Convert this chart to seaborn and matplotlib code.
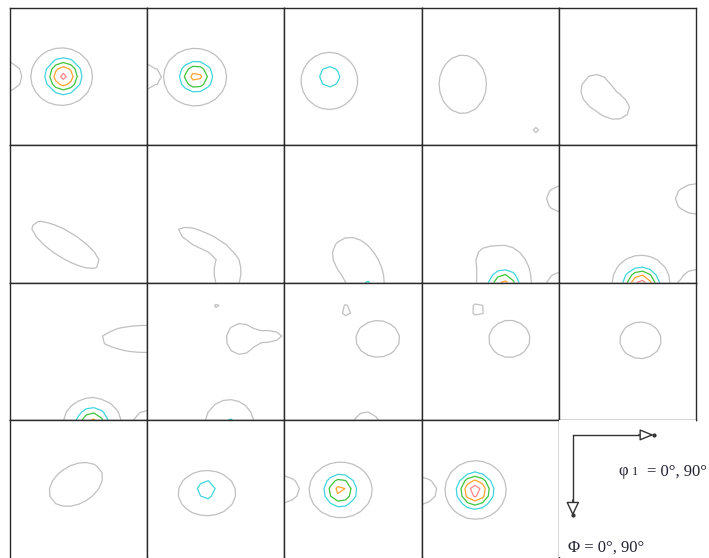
import numpy as np
import matplotlib
matplotlib.use("Agg")
import matplotlib.pyplot as plt
import seaborn as sns

sns.set_theme(style="white")
plt.rcParams["font.family"] = ["Liberation Serif", "DejaVu Serif"]

# Intensity levels of the ODF sections and their line colours
LEVELS = [1, 2, 3, 4, 5]
LEVEL_COLORS = sns.color_palette(["#c0c0c0", "#3fd5dd", "#3cc43c", "#ffa42e", "#ff8585"])

# Texture components of each constant-phi2 section:
# section index, component group, centre (phi1, Phi) in degrees,
# spreads along the two principal directions (deg), tilt (deg), peak intensity.
PEAK_SECTION = [0, 0, 0,
                1, 1, 1,
                2, 2,
                3, 3,
                4, 4,
                5,
                6, 6,
                7, 7, 7,
                8, 8, 8, 8, 8,
                9, 9, 9, 9,
                10, 10, 10, 10,
                11, 11, 11, 11, 11,
                12, 12, 12,
                13, 13,
                14,
                15,
                16, 16,
                17, 17, 17,
                18, 18, 18]
PEAK_GROUP = [0, 1, 2,
              0, 1, 2,
              0, 1,
              0, 1,
              0, 0,
              0,
              0, 1,
              0, 0, 1,
              0, 0, 1, 2, 3,
              0, 1, 2, 3,
              0, 1, 2, 3,
              0, 1, 1, 2, 3,
              0, 1, 2,
              0, 1,
              0,
              0,
              0, 1,
              0, 1, 2,
              0, 1, 2]
PEAK_PHI1 = [33.9, 35.1, -2.7,
             31.4, 32.0, -3.6,
             29.5, 29.7,
             27.0, 75.0,
             24.3, 39.6,
             36.5,
             52.7, 37.8,
             54.0, 40.5, 54.0,
             54.0, 39.6, 54.0, 92.7, 91.8,
             54.0, 54.0, 90.0, 90.0,
             90.0, 54.0, 54.0, 90.0,
             46.8, 61.2, 82.8, 54.0, 54.0,
             41.0, 61.2, 53.6,
             36.9, 57.6,
             53.6,
             43.2,
             39.2, 38.9,
             36.9, 36.6, -2.7,
             35.4, 35.1, -1.8]
PEAK_PHI = [45.0, 44.7, 45.0,
            45.3, 45.0, 45.0,
            47.8, 45.0,
            50.0, 80.0,
            54.0, 66.6,
            65.3,
            82.8, 63.0,
            90.0, 70.2, 95.4,
            90.0, 72.0, 91.8, 35.1, 93.6,
            90.0, 91.8, 35.1, 92.7,
            36.9, 91.8, 92.7, 93.6,
            16.2, 36.9, 35.1, 92.7, 96.3,
            18.0, 36.9, 93.6,
            17.6, 36.9,
            37.8,
            42.3,
            48.0, 45.6,
            45.9, 46.2, 45.5,
            45.9, 46.4, 46.4]
PEAK_SPREAD1 = [22.5, 8.4, 11.0,
                23.0, 8.5, 12.0,
                20.7, 8.3,
                17.3, 1.6,
                12.6, 8.1,
                28.8,
                10.8, 23.4,
                12.6, 9.9, 8.3,
                20.0, 5.4, 8.0, 12.0, 11.7,
                21.0, 8.3, 15.0, 12.6,
                33.3, 21.0, 8.5, 10.8,
                3.0, 10.4, 7.2, 17.8, 8.3,
                4.3, 16.0, 9.8,
                4.6, 15.0,
                15.1,
                21.0,
                21.0, 6.5,
                23.0, 8.5, 14.0,
                22.3, 8.3, 13.1]
PEAK_SPREAD2 = [21.0, 8.4, 11.3,
                21.0, 8.0, 10.0,
                20.8, 8.3,
                21.3, 1.6,
                13.5, 6.8,
                9.5,
                18.0, 6.8,
                18.0, 9.9, 8.3,
                27.0, 5.4, 8.0, 9.9, 11.7,
                20.0, 8.3, 11.0, 12.6,
                9.9, 18.0, 8.5, 10.8,
                3.0, 11.3, 4.1, 17.8, 8.3,
                4.0, 13.4, 9.8,
                4.5, 13.6,
                13.4,
                14.0,
                16.5, 6.5,
                20.3, 8.5, 10.1,
                21.3, 8.3, 10.1]
PEAK_TILT = [0, 0, 0,
             0, 0, 0,
             0, 0,
             0, 0,
             0, 0,
             32,
             0, 25,
             0, 0, 0,
             0, 0, 0, 0, 0,
             0, 0, 0, 0,
             0, 0, 0, 0,
             0, 0, 0, 0, 0,
             0, 0, 0,
             0, 0,
             0,
             -30,
             0, 0,
             0, 0, 0,
             0, 0, 0]
PEAK_HEIGHT = [1.5, 5.33, 1.5,
               1.5, 4.45, 1.5,
               1.5, 2.77,
               1.5, 1.5,
               1.35, 1.15,
               1.5,
               1.4, 1.4,
               1.5, 1.25, 2.6,
               1.5, 0.25, 4.43, 1.5, 1.5,
               1.5, 5.6, 1.5, 1.5,
               1.5, 1.5, 4.38, 1.5,
               1.5, 1.5, 1.3, 1.5, 2.79,
               1.5, 1.5, 1.5,
               1.5, 1.5,
               1.5,
               1.5,
               1.5, 2.98,
               1.5, 4.36, 1.5,
               1.5, 5.66, 1.5]

N_SECTIONS = 19
STEP = 5.0  # grid step of the ODF sections (deg)

PHI1_SYMBOL = "φ"
PHI1_INDEX = "1"
PHI1_RANGE = "= 0°, 90°"
PHI_LABEL = "Φ = 0°, 90°"

phi1 = np.arange(0, 90 + STEP / 2, STEP)
Phi = np.arange(0, 90 + STEP / 2, STEP)
G1, G2 = np.meshgrid(phi1, Phi)


def section_field(k):
    groups = {}
    for i, s in enumerate(PEAK_SECTION):
        if s != k:
            continue
        th = np.deg2rad(PEAK_TILT[i])
        dx = G1 - PEAK_PHI1[i]
        dy = G2 - PEAK_PHI[i]
        u = dx * np.cos(th) + dy * np.sin(th)
        v = -dx * np.sin(th) + dy * np.cos(th)
        val = PEAK_HEIGHT[i] * np.exp(-0.5 * ((u / PEAK_SPREAD1[i]) ** 2 +
                                              (v / PEAK_SPREAD2[i]) ** 2))
        groups[PEAK_GROUP[i]] = groups.get(PEAK_GROUP[i], 0) + val
    return np.max(np.stack(list(groups.values())), axis=0)


W, H = 709, 558
X0, Y0, CW, CH = 10, 8, 137.2, 137.3
SPINE_COLOR = "#2a2a2a"
TEXT_COLOR = "#222233"

fig = plt.figure(figsize=(W / 100, H / 100), dpi=100)
fig.patch.set_facecolor("white")

for k in range(20):
    r, c = divmod(k, 5)
    ax = fig.add_axes([(X0 + c * CW) / W, 1 - (Y0 + (r + 1) * CH) / H, CW / W, CH / H])
    ax.set_facecolor("white")
    ax.set_xticks([])
    ax.set_yticks([])
    for sp in ax.spines.values():
        sp.set_color(SPINE_COLOR)
        sp.set_linewidth(1.0)
    if r == 3:
        ax.spines["bottom"].set_visible(False)

    if k < N_SECTIONS:
        Z = section_field(k)
        ax.contour(G1, G2, Z, levels=LEVELS, colors=LEVEL_COLORS, linewidths=0.9)
        ax.set_xlim(0, 90)
        ax.set_ylim(90, 0)
    else:
        # axis key: phi1 runs to the right, Phi runs downwards
        for sp in ax.spines.values():
            sp.set_visible(False)
        ax.set_xlim(0, CW)
        ax.set_ylim(CH, 0)
        ax.plot([14, 14], [15, 86], color="#333333", lw=1.0)
        ax.plot([14, 84], [15, 15], color="#333333", lw=1.0)
        ax.annotate("", xy=(95, 15), xytext=(80, 15),
                    arrowprops=dict(arrowstyle="-|>,head_length=0.85,head_width=0.35",
                                    fc="white", ec="#333333", lw=1.0,
                                    shrinkA=0, shrinkB=0, mutation_scale=10),
                    annotation_clip=False)
        ax.annotate("", xy=(14, 96), xytext=(14, 80),
                    arrowprops=dict(arrowstyle="-|>,head_length=0.85,head_width=0.4",
                                    fc="white", ec="#333333", lw=1.0,
                                    shrinkA=0, shrinkB=0, mutation_scale=10),
                    annotation_clip=False)
        ax.plot([95], [15], marker="o", ms=2, color="#333333", clip_on=False)
        ax.plot([14], [95], marker="o", ms=2, color="#333333", clip_on=False)
        ax.text(69, 55.4, PHI1_SYMBOL, ha="right", va="baseline", fontsize=12,
                color=TEXT_COLOR, clip_on=False)
        ax.text(79, 55.4, PHI1_INDEX, ha="right", va="baseline", fontsize=9,
                color=TEXT_COLOR, clip_on=False)
        ax.text(148.5, 55.4, PHI1_RANGE, ha="right", va="baseline", fontsize=12,
                color=TEXT_COLOR, clip_on=False)
        ax.text(9, 132, PHI_LABEL, ha="left", va="baseline", fontsize=12,
                color=TEXT_COLOR, clip_on=False)

fig.savefig("out.png", dpi=100, facecolor="white")
